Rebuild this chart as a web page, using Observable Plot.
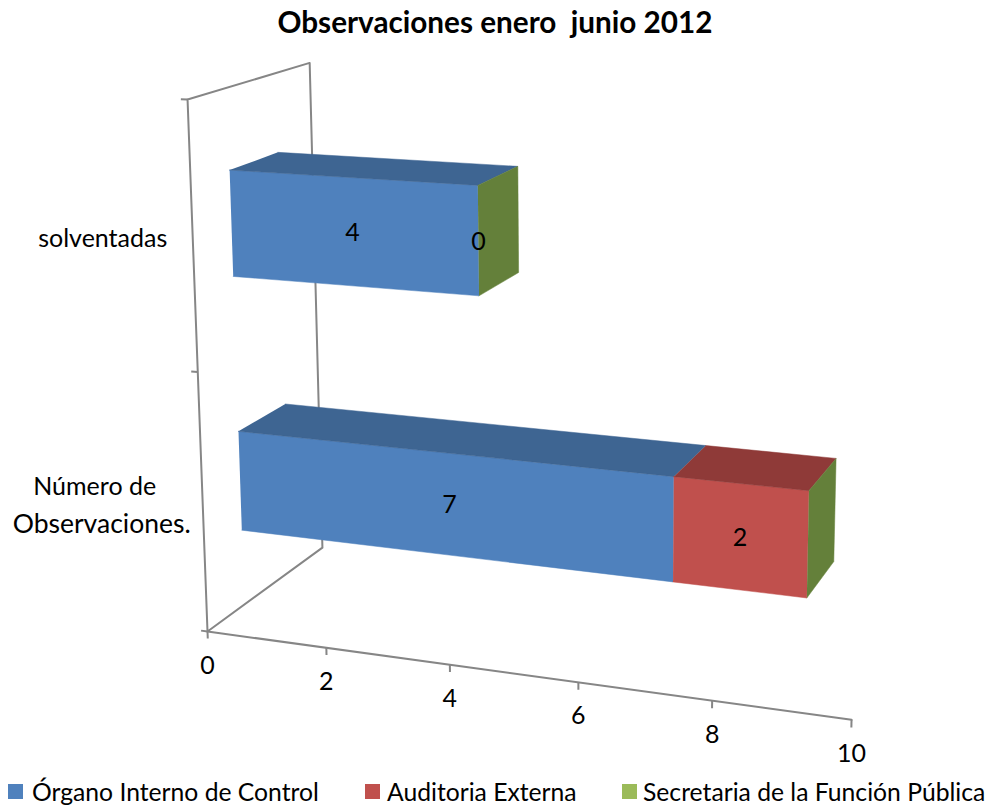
<!DOCTYPE html>
<html>
<head>
<meta charset="utf-8">
<script src="https://cdn.jsdelivr.net/npm/d3@7"></script>
<script src="https://cdn.jsdelivr.net/npm/@observablehq/plot@0.6"></script>
<style>
html,body{margin:0;padding:0;background:#fff;}
body{width:990px;height:806px;overflow:hidden;font-family:Lato,sans-serif;color:#000;}
#title{height:44px;line-height:44px;text-align:center;font-weight:700;font-size:29.7px;white-space:pre;}
#legend{position:relative;height:32px;font-size:24.7px;}
#legend span{position:absolute;top:3px;line-height:30px;white-space:nowrap;}
#legend i{position:absolute;top:10px;width:15px;height:15px;display:block;}
svg{display:block;}
</style>
</head>
<body>
<div id="title">Observaciones enero  junio 2012</div>
<div id="chart"></div>
<div id="legend"></div>
<script>
const categories = ["Número de Observaciones.", "solventadas"];
const categoryLines = [["Número de", "Observaciones."], ["solventadas"]];
const seriesNames = ["Órgano Interno de Control", "Auditoria Externa", "Secretaria de la Función Pública"];
const organo = [7, 4];
const auditoria = [2, null];
const secretaria = [null, 0];
const valueTicks = [0, 2, 4, 6, 8, 10];
const frontColors = ["#4F81BD", "#C0504D", "#9BBB59"];
const topColors = ["#3E6592", "#8F3A38", "#64803A"];
const sideColor = "#64803A";
const axisColor = "#868686";

// 3D chart box -> picture coordinates (one perspective camera)
// v: value 0..10, h: category axis 0..1, d: depth 0..1
function project(v, h, d) {
  const w = 1 - 0.0095 * v - 0.0484 * h + 0.1012 * d;
  return [
    (207 + 56.32 * v - 29 * h + 147.5 * d) / w,
    (631 + 2.0 * v - 536.8 * h - 28.5 * d) / w
  ];
}
const px = (p) => p[0], py = (p) => p[1];

const barFront = 0.3, barBack = 0.7, slot = 0.5, barStart = 0.15, barStep = 0.496, barHeight = 0.196;
const barEnd = (v) => (v > 0 ? v + 0.035 : v);
const series = [organo, auditoria, secretaria];

const faces = [], labels = [];
categories.forEach((cat, i) => {
  const h0 = barStart + barStep * i, h1 = h0 + barHeight + 0.005 * i;
  let start = 0;
  series.forEach((vals, s) => {
    const val = vals[i];
    if (val == null) return;
    const end = start + val;
    const a = barEnd(start), b = barEnd(end);
    if (val > 0) {
      const id = cat + s;
      [[a,h0,barFront],[b,h0,barFront],[b,h1,barFront],[a,h1,barFront]]
        .forEach(c => faces.push({id: id + "f", p: project(...c), color: frontColors[s]}));
      [[a,h1,barFront],[b,h1,barFront],[b,h1,barBack],[a,h1,barBack]]
        .forEach(c => faces.push({id: id + "t", p: project(...c), color: topColors[s]}));
    }
    labels.push({text: String(val), p: project((a + b) / 2, (h0 + h1) / 2, barFront)});
    start = end;
  });
  const e = barEnd(start);
  [[e,h0,barFront],[e,h0,barBack],[e,h1,barBack],[e,h1,barFront]]
    .forEach(c => faces.push({id: cat + "side", p: project(...c), color: sideColor}));
});

const wallPath = [[0,0,0],[0,1,0],[0,1,1],[0,0,1],[0,0,0],[10,0,0]].map(c => ({p: project(...c)}));
const catTicks = [0, slot, 2 * slot];
const catTickLinks = catTicks.map(h => ({a: project(-0.11, h, 0), b: project(0, h, 0)}));
const valTickLinks = valueTicks.map(v => ({a: project(v, 0, 0), b: project(v, -0.014, 0)}));
const valLabels = valueTicks.map(v => ({text: String(v), p: project(v, 0, 0)}));
const catLabels = [];
categoryLines.forEach((lines, i) => {
  const c = project(0, slot * i + slot / 2, 0);
  lines.forEach((t, k) => catLabels.push({text: t, p: c, k, n: lines.length}));
});

const plot = Plot.plot({
  width: 990, height: 730,
  margin: 0,
  x: {domain: [0, 990], range: [0, 990], axis: null},
  y: {domain: [44, 774], range: [0, 730], axis: null},
  color: {type: "identity"},
  style: {fontFamily: "Lato, sans-serif", background: "#fff", color: "#000", overflow: "visible"},
  marks: [
    Plot.line(wallPath, {x: d => px(d.p), y: d => py(d.p), stroke: axisColor, strokeWidth: 2, curve: "linear"}),
    Plot.link(catTickLinks, {x1: d => px(d.a), y1: d => py(d.a), x2: d => px(d.b), y2: d => py(d.b), stroke: axisColor, strokeWidth: 2}),
    Plot.link(valTickLinks, {x1: d => px(d.a), y1: d => py(d.a), x2: d => px(d.b), y2: d => py(d.b), stroke: axisColor, strokeWidth: 2}),
    Plot.line(faces, {x: d => px(d.p), y: d => py(d.p), z: "id", fill: "color", stroke: "color", strokeWidth: 0.5, curve: "linear"}),
    Plot.text(labels, {x: d => px(d.p), y: d => py(d.p), dy: 1, text: "text", fontSize: 25, fill: "#000"}),
    Plot.text(valLabels, {x: d => px(d.p), y: d => py(d.p), text: "text", fontSize: 25, fill: "#000", dy: 34}),
    Plot.text(catLabels.filter(d => d.n === 1), {x: d => px(d.p) - 90, y: d => py(d.p), dy: 1, text: "text", fontSize: 25, fill: "#000"}),
    Plot.text(catLabels.filter(d => d.n === 2 && d.k === 0), {x: d => px(d.p) - 108, y: d => py(d.p) - 16, text: "text", fontSize: 25, fill: "#000"}),
    Plot.text(catLabels.filter(d => d.n === 2 && d.k === 1), {x: d => px(d.p) - 101, y: d => py(d.p) + 21, text: "text", fontSize: 26.5, fill: "#000"})
  ]
});
document.getElementById("chart").appendChild(plot);

const legendX = [[8, 32], [365, 387], [622, 643]];
const legend = document.getElementById("legend");
seriesNames.forEach((name, i) => {
  const sw = document.createElement("i");
  sw.style.left = legendX[i][0] + "px";
  sw.style.background = frontColors[i];
  legend.appendChild(sw);
  const t = document.createElement("span");
  t.style.left = legendX[i][1] + "px";
  t.textContent = name;
  legend.appendChild(t);
});
</script>
</body>
</html>
